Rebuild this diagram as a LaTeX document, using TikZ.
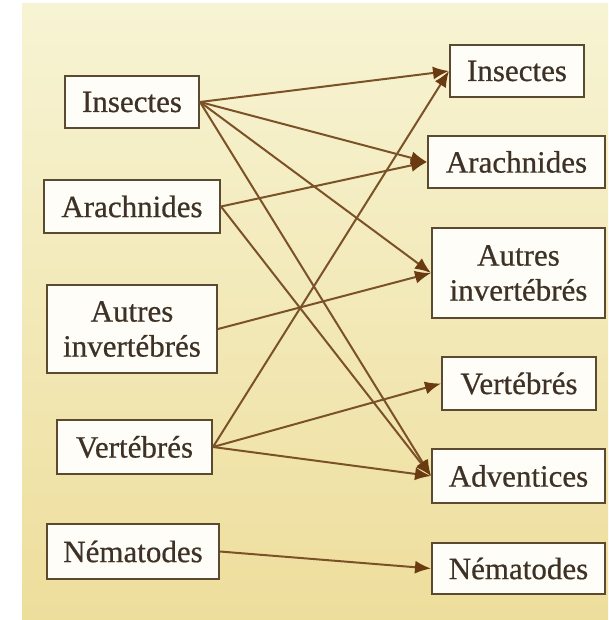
\documentclass[tikz,border=0pt]{standalone}
\usepackage{fontspec}
\setmainfont{Liberation Serif}
\newfontfamily\boxfont{Liberation Serif}[FakeBold=0.6]
\usetikzlibrary{arrows.meta}
\definecolor{bgtop}{HTML}{F7F4D4}
\definecolor{bgbot}{HTML}{EEDE9C}
\definecolor{boxline}{HTML}{5C4A30}
\definecolor{boxfill}{HTML}{FFFDF8}
\definecolor{txt}{HTML}{3E3226}
\definecolor{link}{HTML}{7B5228}
\definecolor{tipcol}{HTML}{6A3A10}
\begin{document}
\begin{tikzpicture}[x=1pt,y=-1pt,
  box/.style={draw=boxline, line width=2pt, fill=boxfill, text=txt,
    font=\boxfont\fontsize{31}{35}\selectfont, align=center, inner sep=0pt},
  link/.style={draw=link, line width=2pt,
    -{Latex[length=16pt,width=13pt,color=tipcol]}}]
\useasboundingbox (0,0) rectangle (608,620);
\shade[top color=bgtop, bottom color=bgbot] (22,4) rectangle (608,620);
% left column
\node[box, minimum width=134pt, minimum height=52pt] (LIns) at (132,102) {Insectes};
\node[box, minimum width=176pt, minimum height=53pt] (LAra) at (132,206.5) {Arachnides};
\node[box, minimum width=170pt, minimum height=88pt] (LAut) at (132,329) {Autres\\invertébrés};
\node[box, minimum width=155pt, minimum height=54pt] (LVer) at (134.5,447) {Vertébrés};
\node[box, minimum width=172pt, minimum height=55pt] (LNem) at (133,551.5) {Nématodes};
% right column
\node[box, minimum width=134pt, minimum height=52pt] (RIns) at (517,71) {Insectes};
\node[box, minimum width=177pt, minimum height=52pt] (RAra) at (516.5,162) {Arachnides};
\node[box, minimum width=173pt, minimum height=90pt] (RAut) at (518.5,273) {Autres\\invertébrés};
\node[box, minimum width=154pt, minimum height=53pt] (RVer) at (519,383.5) {Vertébrés};
\node[box, minimum width=173pt, minimum height=54pt] (RAdv) at (518.5,476) {Adventices};
\node[box, minimum width=173pt, minimum height=51pt] (RNem) at (518.5,568.5) {Nématodes};
% links
\draw[link] (LIns.east) -- (RIns.west);
\draw[link] (LIns.east) -- (RAra.west);
\draw[link] (LIns.east) -- (RAut.west);
\draw[link] (LIns.east) -- (RAdv.west);
\draw[link] (LAra.east) -- (RAra.west);
\draw[link] (LAra.east) -- (RAdv.west);
\draw[link] (LAut.east) -- (RAut.west);
\draw[link] (LVer.east) -- (RIns.west);
\draw[link] (LVer.east) -- (RVer.west);
\draw[link] (LVer.east) -- (RAdv.west);
\draw[link] (LNem.east) -- (RNem.west);
\end{tikzpicture}
\end{document}
